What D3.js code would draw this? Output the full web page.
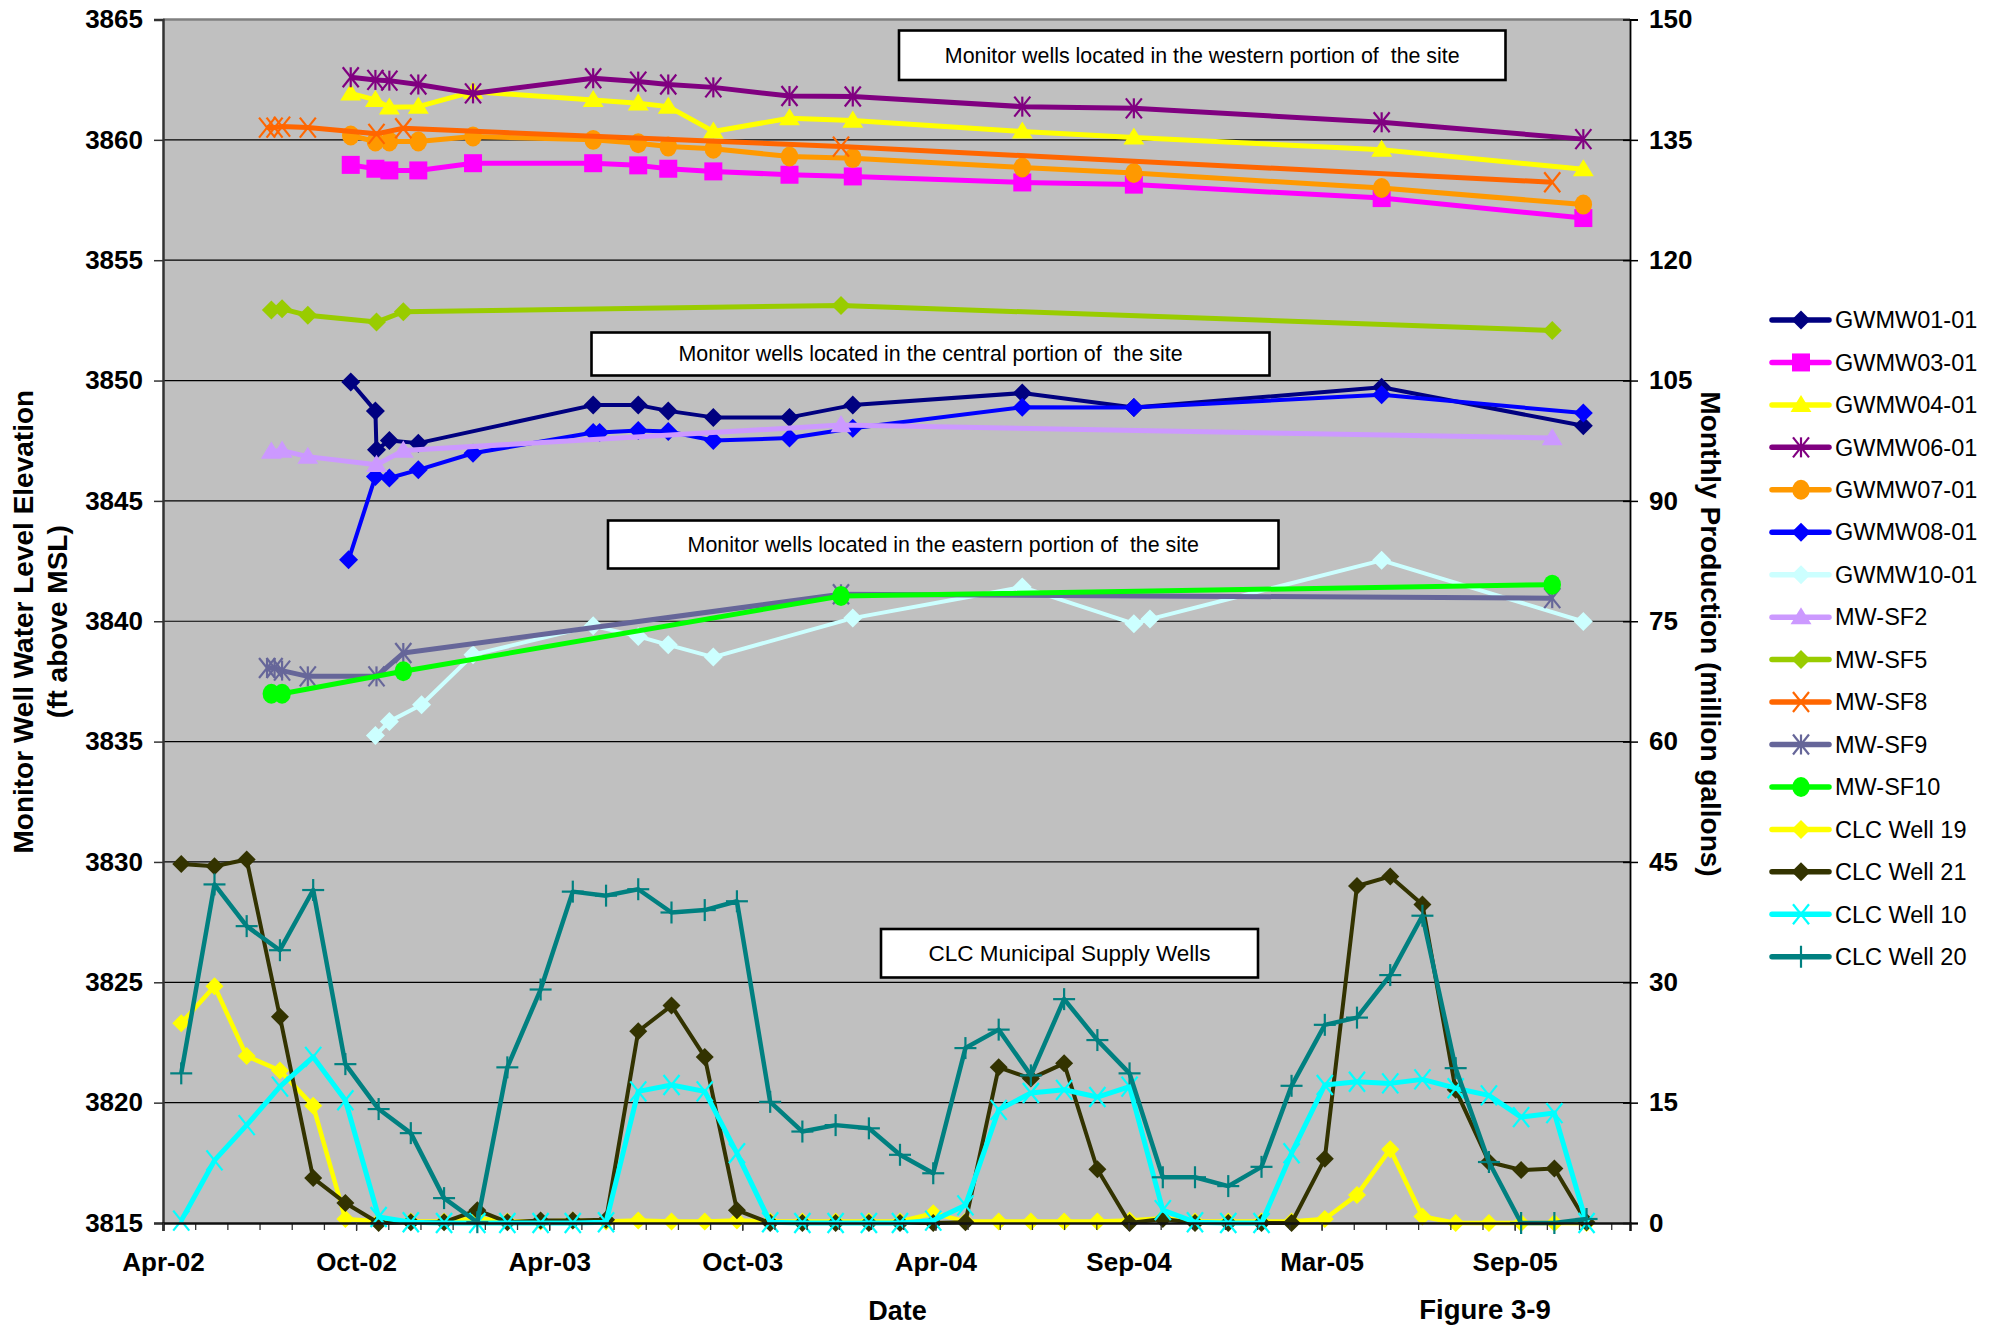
<!DOCTYPE html>
<html>
<head>
<meta charset="utf-8">
<script src="https://cdn.jsdelivr.net/npm/d3@7"></script>
<style>
  body { margin: 0; background: #fff; }
  svg text { font-family: "Liberation Sans", Arial, sans-serif; }
</style>
</head>
<body>
<svg id="chart" width="1991" height="1327"></svg>
<script>
// ---------- axis definitions ----------
const axisStartDay = "2002-04-13";       // date at the left edge of the plot
const axisSpanDays = 1367.5;             // length of the date axis in days
const xTickLabels = ["Apr-02", "Oct-02", "Apr-03", "Oct-03", "Apr-04", "Sep-04", "Mar-05", "Sep-05"];
const majorStepDays = 180;
const minorStepDays = 30;
const leftTicks = [3815, 3820, 3825, 3830, 3835, 3840, 3845, 3850, 3855, 3860, 3865];
const rightTicks = [0, 15, 30, 45, 60, 75, 90, 105, 120, 135, 150];

// ---------- monitor well water levels (ft above MSL) ----------
const gwmw01 = [["2002-10-05",3849.94],["2002-10-28",3848.74],["2002-10-29",3847.12],["2002-11-10",3847.51],["2002-12-07",3847.40],["2003-05-19",3848.98],["2003-06-30",3848.98],["2003-07-28",3848.74],["2003-09-08",3848.47],["2003-11-18",3848.47],["2004-01-16",3848.98],["2004-06-22",3849.48],["2004-10-04",3848.88],["2005-05-23",3849.72],["2005-11-27",3848.12]];
const gwmw03 = [["2002-10-05",3858.96],["2002-10-28",3858.80],["2002-11-10",3858.73],["2002-12-07",3858.73],["2003-01-27",3859.03],["2003-05-19",3859.03],["2003-06-30",3858.94],["2003-07-28",3858.80],["2003-09-08",3858.69],["2003-11-18",3858.55],["2004-01-16",3858.48],["2004-06-22",3858.23],["2004-10-04",3858.14],["2005-05-23",3857.58],["2005-11-27",3856.75]];
const gwmw04 = [["2002-10-05",3861.93],["2002-10-28",3861.66],["2002-11-10",3861.35],["2002-12-07",3861.38],["2003-01-27",3862.00],["2003-05-19",3861.66],["2003-06-30",3861.52],["2003-07-28",3861.38],["2003-09-08",3860.35],["2003-11-18",3860.90],["2004-01-16",3860.80],["2004-06-22",3860.35],["2004-10-04",3860.10],["2005-05-23",3859.59],["2005-11-27",3858.78]];
const gwmw06 = [["2002-10-05",3862.60],["2002-10-28",3862.49],["2002-11-10",3862.46],["2002-12-07",3862.30],["2003-01-27",3861.93],["2003-05-19",3862.56],["2003-06-30",3862.42],["2003-07-28",3862.30],["2003-09-08",3862.18],["2003-11-18",3861.82],["2004-01-16",3861.80],["2004-06-22",3861.38],["2004-10-04",3861.31],["2005-05-23",3860.73],["2005-11-27",3860.03]];
const gwmw07 = [["2002-10-05",3860.18],["2002-10-28",3859.93],["2002-11-10",3859.93],["2002-12-07",3859.93],["2003-01-27",3860.14],["2003-05-19",3860.00],["2003-06-30",3859.86],["2003-07-28",3859.72],["2003-09-08",3859.63],["2003-11-18",3859.31],["2004-01-16",3859.24],["2004-06-22",3858.85],["2004-10-04",3858.62],["2005-05-23",3858.00],["2005-11-27",3857.31]];
const gwmw08 = [["2002-10-03",3842.55],["2002-10-28",3846.01],["2002-11-10",3845.95],["2002-12-07",3846.29],["2003-01-27",3846.98],["2003-05-19",3847.84],["2003-05-25",3847.84],["2003-06-30",3847.92],["2003-07-28",3847.88],["2003-09-08",3847.51],["2003-11-18",3847.61],["2004-01-16",3848.02],["2004-06-22",3848.89],["2004-10-04",3848.88],["2005-05-23",3849.41],["2005-11-27",3848.65]];
const gwmw10 = [["2002-10-28",3835.25],["2002-11-10",3835.84],["2002-12-10",3836.53],["2003-01-27",3838.61],["2003-05-19",3839.81],["2003-06-30",3839.37],["2003-07-28",3839.02],["2003-09-08",3838.51],["2004-01-16",3840.13],["2004-06-22",3841.42],["2004-10-04",3839.90],["2004-10-19",3840.09],["2005-05-23",3842.53],["2005-11-27",3839.99]];
const mwsf2  = [["2002-07-23",3847.05],["2002-08-02",3847.09],["2002-08-26",3846.84],["2002-10-29",3846.50],["2002-11-23",3847.09],["2004-01-05",3848.15],["2005-10-29",3847.61]];
const mwsf5  = [["2002-07-23",3852.93],["2002-08-02",3852.98],["2002-08-26",3852.71],["2002-10-29",3852.43],["2002-11-23",3852.86],["2004-01-05",3853.12],["2005-10-29",3852.08]];
const mwsf8  = [["2002-07-19",3860.51],["2002-07-26",3860.51],["2002-08-02",3860.55],["2002-08-26",3860.51],["2002-10-29",3860.25],["2002-11-23",3860.48],["2004-01-05",3859.72],["2005-10-29",3858.24]];
const mwsf9  = [["2002-07-19",3838.06],["2002-07-26",3838.06],["2002-08-02",3837.95],["2002-08-26",3837.71],["2002-10-29",3837.71],["2002-11-23",3838.68],["2004-01-05",3841.12],["2005-10-29",3840.96]];
const mwsf10 = [["2002-07-23",3836.99],["2002-08-02",3836.99],["2002-11-23",3837.92],["2004-01-05",3841.05],["2005-10-29",3841.52]];

// ---------- CLC municipal supply wells, monthly production (million gallons) ----------
const clcMonths = ["2002-04","2002-05","2002-06","2002-07","2002-08","2002-09","2002-10","2002-11","2002-12",
  "2003-01","2003-02","2003-03","2003-04","2003-05","2003-06","2003-07","2003-08","2003-09","2003-10","2003-11","2003-12",
  "2004-01","2004-02","2004-03","2004-04","2004-05","2004-06","2004-07","2004-08","2004-09","2004-10","2004-11","2004-12",
  "2005-01","2005-02","2005-03","2005-04","2005-05","2005-06","2005-07","2005-08","2005-09","2005-10","2005-11"];
const clcWell19 = [24.9,29.5,20.8,19.0,14.6,0.5,0.2,0.2,0.2,0.6,0.2,0.2,0.3,0.2,0.3,0.2,0.2,0.3,0.2,0.2,0.2,0.2,0.2,1.2,0.2,0.2,0.2,0.2,0.2,0.3,0.6,0.2,0.2,0.2,0.2,0.5,3.5,9.2,0.8,0,0,0,0,0];
const clcWell21 = [44.75,44.46,45.3,25.7,5.6,2.5,0,0.1,0.1,1.6,0.1,0.3,0.3,0.4,23.9,27.1,20.7,1.6,0,0,0,0,0,0,0.1,19.4,18.0,19.9,6.7,0,0.5,0,0,0,0,8.0,42.0,43.2,39.7,16.6,7.6,6.6,6.8,0.1];
const clcWell10 = [0.3,7.8,12.2,17.0,20.7,15.3,0.75,0.1,0,0,0,0,0,0.1,16.4,17.2,16.4,8.7,0.1,0,0,0,0,0.3,2.2,14.1,16.2,16.6,15.7,17.0,1.6,0.1,0,0,8.7,17.2,17.6,17.4,17.9,16.8,15.9,13.2,13.7,0];
const clcWell20 = [18.65,42.2,37.0,34.0,41.5,19.8,14.2,11.2,3.1,0.1,19.4,29.1,41.3,40.8,41.6,38.7,39.0,40.1,15.1,11.4,12.2,11.8,8.5,6.2,21.8,24.1,18.4,27.9,22.8,18.65,5.7,5.7,4.6,7.0,17.1,24.7,25.6,30.9,38.3,19.3,7.6,0,0,0.5];

// ---------- series styling ----------
const parseDay = d3.utcParse("%Y-%m-%d");
const parseMonth = d3.utcParse("%Y-%m");
const monthEnd = m => d3.utcDay.offset(d3.utcMonth.offset(parseMonth(m), 1), -1);
const clcDates = clcMonths.map(monthEnd);

const monitorSeries = [
  { name: "GWMW01-01", data: gwmw01, color: "#000080", marker: "diamond",  width: 4 },
  { name: "GWMW03-01", data: gwmw03, color: "#FF00FF", marker: "square",   width: 5 },
  { name: "GWMW04-01", data: gwmw04, color: "#FFFF00", marker: "triangle", width: 5 },
  { name: "GWMW06-01", data: gwmw06, color: "#800080", marker: "star",     width: 5 },
  { name: "GWMW07-01", data: gwmw07, color: "#FF9900", marker: "circle",   width: 5 },
  { name: "GWMW08-01", data: gwmw08, color: "#0000FF", marker: "diamond",  width: 4 },
  { name: "GWMW10-01", data: gwmw10, color: "#CCFFFF", marker: "diamond",  width: 4 },
  { name: "MW-SF2",    data: mwsf2,  color: "#CC99FF", marker: "triangle", width: 5 },
  { name: "MW-SF5",    data: mwsf5,  color: "#99CC00", marker: "diamond",  width: 5 },
  { name: "MW-SF8",    data: mwsf8,  color: "#FF6600", marker: "x",        width: 5 },
  { name: "MW-SF9",    data: mwsf9,  color: "#666699", marker: "star",     width: 5 },
  { name: "MW-SF10",   data: mwsf10, color: "#00FF00", marker: "circle",   width: 5 }
];
const productionSeries = [
  { name: "CLC Well 19", values: clcWell19, color: "#FFFF00", marker: "diamond", width: 4.5 },
  { name: "CLC Well 21", values: clcWell21, color: "#333300", marker: "diamond", width: 4 },
  { name: "CLC Well 10", values: clcWell10, color: "#00FFFF", marker: "x",       width: 5 },
  { name: "CLC Well 20", values: clcWell20, color: "#008080", marker: "plus",    width: 4.5 }
];

// ---------- layout ----------
const plot = { left: 163, right: 1630, top: 19.5, bottom: 1223 };
const svg = d3.select("#chart");

const axisStart = parseDay(axisStartDay);
const axisEnd = new Date(+axisStart + axisSpanDays * 864e5);
const x = d3.scaleUtc().domain([axisStart, axisEnd]).range([plot.left, plot.right]);
const yLeft = d3.scaleLinear().domain([3815, 3865]).range([plot.bottom, plot.top]);
const yRight = d3.scaleLinear().domain([0, 150]).range([plot.bottom, plot.top]);

// plot background
svg.append("rect")
  .attr("x", plot.left).attr("y", plot.top)
  .attr("width", plot.right - plot.left).attr("height", plot.bottom - plot.top)
  .attr("fill", "#C0C0C0");

// horizontal gridlines
svg.append("g").selectAll("line")
  .data(leftTicks.filter(v => v > 3815 && v < 3865))
  .join("line")
  .attr("x1", plot.left).attr("x2", plot.right)
  .attr("y1", d => yLeft(d)).attr("y2", d => yLeft(d))
  .attr("stroke", "#000").attr("stroke-width", 1.2);

// plot frame (top edge)
svg.append("line")
  .attr("x1", plot.left).attr("x2", plot.right)
  .attr("y1", plot.top).attr("y2", plot.top)
  .attr("stroke", "#808080").attr("stroke-width", 2.5);

// ---------- markers ----------
function drawMarker(g, type, color, r) {
  if (type === "diamond") {
    g.append("path").attr("d", `M0,${-r}L${r},0L0,${r}L${-r},0Z`).attr("fill", color);
  } else if (type === "square") {
    g.append("rect").attr("x", -r).attr("y", -r).attr("width", 2 * r).attr("height", 2 * r).attr("fill", color);
  } else if (type === "triangle") {
    g.append("path").attr("d", `M0,${-r * 1.05}L${r * 1.1},${r * 0.75}L${-r * 1.1},${r * 0.75}Z`).attr("fill", color);
  } else if (type === "circle") {
    g.append("ellipse").attr("rx", r * 0.92).attr("ry", r * 1.05).attr("fill", color);
  } else {
    const segs = [];
    const k = r * 0.8;
    if (type === "x" || type === "star") segs.push([-k, -r, k, r], [-k, r, k, -r]);
    if (type === "star" || type === "plus") segs.push([0, -r, 0, r]);
    if (type === "plus") segs.push([-r, 0, r, 0]);
    segs.forEach(s => g.append("line")
      .attr("x1", s[0]).attr("y1", s[1]).attr("x2", s[2]).attr("y2", s[3])
      .attr("stroke", color).attr("stroke-width", 2.2));
  }
}
const markerSize = { diamond: 9.5, square: 9, triangle: 9.5, circle: 9.5, star: 10, x: 10, plus: 11 };

// ---------- monitor well lines (left axis) ----------
const lineLeft = d3.line().x(d => x(d.date)).y(d => yLeft(d.value));
monitorSeries.forEach(s => {
  const pts = s.data.map(([d, v]) => ({ date: parseDay(d), value: v }));
  const g = svg.append("g");
  g.append("path").datum(pts)
    .attr("d", lineLeft)
    .attr("fill", "none").attr("stroke", s.color)
    .attr("stroke-width", s.width).attr("stroke-linejoin", "round");
  pts.forEach(p => {
    const m = g.append("g").attr("transform", `translate(${x(p.date)},${yLeft(p.value)})`);
    drawMarker(m, s.marker, s.color, markerSize[s.marker]);
  });
});

// ---------- CLC production lines (right axis) ----------
const lineRight = d3.line().x(d => x(d.date)).y(d => yRight(d.value));
productionSeries.forEach(s => {
  const pts = s.values.map((v, i) => ({ date: clcDates[i], value: v }));
  const g = svg.append("g");
  g.append("path").datum(pts)
    .attr("d", lineRight)
    .attr("fill", "none").attr("stroke", s.color)
    .attr("stroke-width", s.width).attr("stroke-linejoin", "round");
  pts.forEach(p => {
    const m = g.append("g").attr("transform", `translate(${x(p.date)},${yRight(p.value)})`);
    drawMarker(m, s.marker, s.color, s.marker === "diamond" ? 9 : markerSize[s.marker]);
  });
});

// ---------- axes ----------
const tickFont = g => g.selectAll("text")
  .attr("font-size", 26).attr("font-weight", "bold").attr("fill", "#000");

// left axis
const gLeft = svg.append("g").attr("transform", `translate(${plot.left},0)`)
  .call(d3.axisLeft(yLeft).tickValues(leftTicks).tickFormat(d3.format("d")).tickSize(9).tickPadding(11));
gLeft.select(".domain").attr("stroke", "#333").attr("stroke-width", 2.5);
gLeft.selectAll(".tick line").attr("stroke", "#333").attr("stroke-width", 1.5);
gLeft.call(tickFont);

// right axis (ticks cross the axis line)
const gRight = svg.append("g").attr("transform", `translate(${plot.right},0)`)
  .call(d3.axisRight(yRight).tickValues(rightTicks).tickSize(8).tickPadding(11));
gRight.select(".domain").attr("stroke", "#000").attr("stroke-width", 1.8);
gRight.selectAll(".tick line").attr("x1", -7).attr("stroke", "#000").attr("stroke-width", 1.5);
gRight.call(tickFont);

// bottom date axis: major ticks every 180 days, minor every 30 days
const majorDates = xTickLabels.map((_, i) => d3.utcDay.offset(axisStart, majorStepDays * i));
const minorDates = d3.range(0, axisSpanDays, minorStepDays).map(n => d3.utcDay.offset(axisStart, n));
const gMinor = svg.append("g").attr("transform", `translate(0,${plot.bottom})`)
  .call(d3.axisBottom(x).tickValues(minorDates).tickFormat("").tickSize(7));
gMinor.select(".domain").remove();
gMinor.selectAll(".tick line").attr("stroke", "#333").attr("stroke-width", 1.3);

const gBottom = svg.append("g").attr("transform", `translate(0,${plot.bottom})`)
  .call(d3.axisBottom(x).tickValues(majorDates).tickFormat((d, i) => xTickLabels[i]).tickSize(8).tickPadding(22));
gBottom.select(".domain").attr("stroke", "#111").attr("stroke-width", 2.5);
gBottom.selectAll(".tick line").attr("stroke", "#333").attr("stroke-width", 1.3);
gBottom.call(tickFont);

// ---------- axis titles ----------
svg.append("text")
  .attr("transform", "translate(32.5,621.7) rotate(-90)")
  .attr("text-anchor", "middle").attr("font-size", 28).attr("font-weight", "bold")
  .text("Monitor Well Water Level Elevation");
svg.append("text")
  .attr("transform", "translate(67,621.7) rotate(-90)")
  .attr("text-anchor", "middle").attr("font-size", 28).attr("font-weight", "bold")
  .text("(ft above MSL)");
svg.append("text")
  .attr("transform", "translate(1701,634) rotate(90)")
  .attr("text-anchor", "middle").attr("font-size", 28).attr("font-weight", "bold")
  .text("Monthly Production (million gallons)");
svg.append("text")
  .attr("x", 897.5).attr("y", 1320)
  .attr("text-anchor", "middle").attr("font-size", 27).attr("font-weight", "bold")
  .text("Date");
svg.append("text")
  .attr("x", 1485).attr("y", 1319)
  .attr("text-anchor", "middle").attr("font-size", 27.5).attr("font-weight", "bold")
  .text("Figure 3-9");

// ---------- annotation boxes ----------
const notes = [
  { text: "Monitor wells located in the western portion of  the site", x0: 899, y0: 30.5, x1: 1505.5, y1: 80, size: 21.4 },
  { text: "Monitor wells located in the central portion of  the site",  x0: 591.5, y0: 332.5, x1: 1269.5, y1: 375.5, size: 21.4 },
  { text: "Monitor wells located in the eastern portion of  the site",  x0: 608, y0: 520.5, x1: 1278.5, y1: 568.5, size: 21.4 },
  { text: "CLC Municipal Supply Wells", x0: 881, y0: 929, x1: 1258, y1: 977.5, size: 22.5 }
];
notes.forEach(n => {
  svg.append("rect")
    .attr("x", n.x0).attr("y", n.y0).attr("width", n.x1 - n.x0).attr("height", n.y1 - n.y0)
    .attr("fill", "#fff").attr("stroke", "#000").attr("stroke-width", 2.6);
  svg.append("text")
    .attr("x", (n.x0 + n.x1) / 2).attr("y", (n.y0 + n.y1) / 2)
    .attr("dy", "0.35em").attr("text-anchor", "middle")
    .attr("font-size", n.size).attr("fill", "#000")
    .style("white-space", "pre").attr("xml:space", "preserve")
    .text(n.text);
});

// ---------- legend ----------
const legendItems = monitorSeries.concat(productionSeries);
const legend = svg.append("g").attr("transform", "translate(1772,320)");
legendItems.forEach((s, i) => {
  const g = legend.append("g").attr("transform", `translate(0,${i * 42.45})`);
  g.append("line").attr("x1", 0).attr("x2", 57).attr("y1", 0).attr("y2", 0)
    .attr("stroke", s.color).attr("stroke-width", 5.5).attr("stroke-linecap", "round");
  const m = g.append("g").attr("transform", "translate(29,0)");
  drawMarker(m, s.marker, s.color, markerSize[s.marker]);
  g.append("text").attr("x", 63).attr("y", 0).attr("dy", "0.35em")
    .attr("font-size", 23.5).attr("fill", "#000").text(s.name);
});
</script>
</body>
</html>
